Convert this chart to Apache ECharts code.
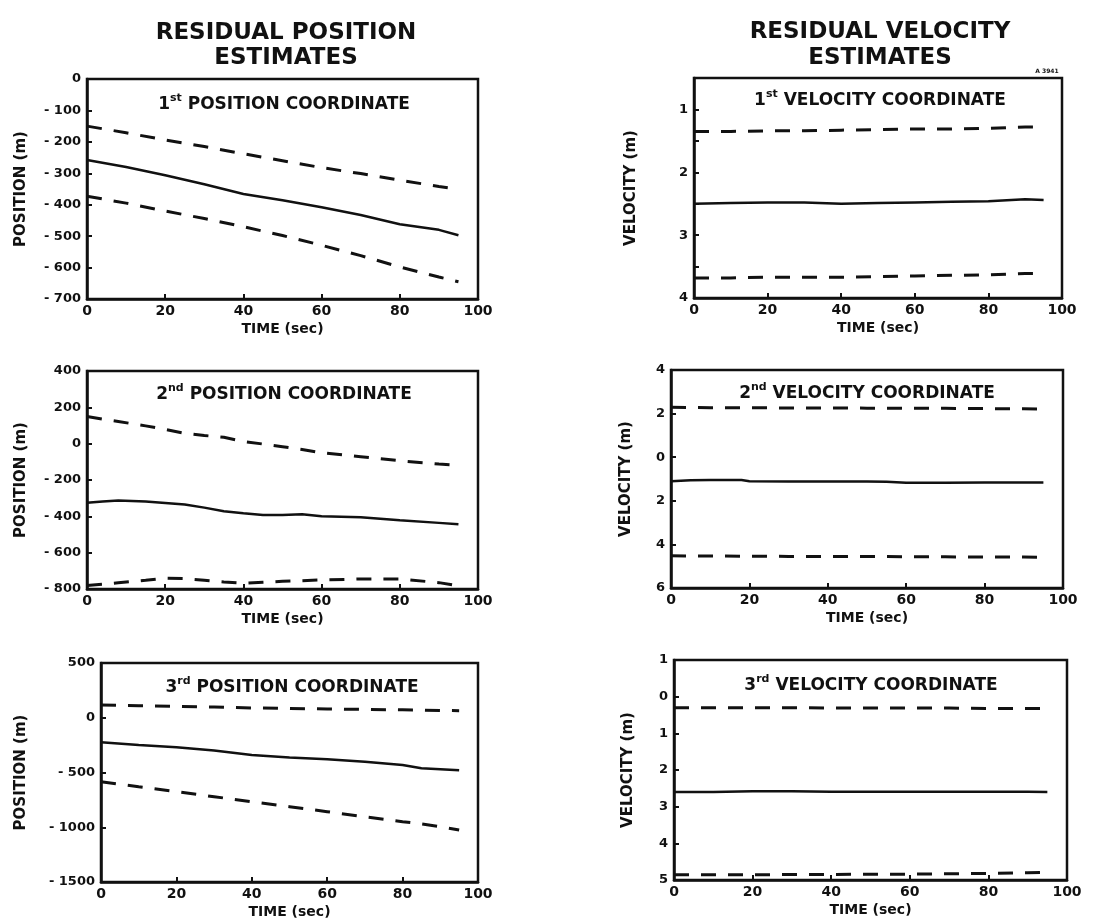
<!DOCTYPE html>
<html>
<head>
<meta charset="utf-8">
<script src="https://cdn.jsdelivr.net/npm/echarts@6/dist/echarts.min.js"></script>
<style>
html,body{margin:0;padding:0;background:#fff;}
#chart{width:1107px;height:921px;}
</style>
</head>
<body>
<div id="chart"></div>
<script>
// ---------- DATA ----------
// Panel 1: 1st position coordinate
var t1 = [0, 10, 20, 30, 40, 50, 60, 70, 80, 90, 95];
var pos1Est   = [-258, -280, -306, -335, -366, -386, -408, -433, -462, -480, -497];
var pos1Upper = [-150, -171, -194, -215, -238, -260, -282, -301, -322, -342, -351];
var pos1Lower = [-373, -395, -420, -444, -470, -498, -529, -562, -598, -630, -645];
var pos1Ticks = ['- 700', '- 600', '- 500', '- 400', '- 300', '- 200', '- 100', '0'];

// Panel 2: 1st velocity coordinate
var t2 = [0, 10, 20, 30, 40, 50, 60, 70, 80, 90, 95];
var vel1Est   = [-2.50, -2.49, -2.48, -2.48, -2.50, -2.49, -2.48, -2.47, -2.46, -2.43, -2.44];
var vel1Upper = [-1.35, -1.35, -1.34, -1.34, -1.33, -1.32, -1.31, -1.31, -1.30, -1.28, -1.28];
var vel1Lower = [-3.68, -3.68, -3.67, -3.67, -3.67, -3.66, -3.65, -3.64, -3.63, -3.61, -3.61];
var vel1Ticks = ['4', '', '3', '', '2', '', '1', ''];

// Panel 3: 2nd position coordinate
var t3 = [0, 4, 8, 15, 20, 25, 30, 35, 40, 45, 50, 55, 60, 70, 80, 90, 95];
var pos2Est   = [-325, -318, -313, -318, -326, -335, -352, -372, -383, -392, -393, -388, -400, -405, -421, -436, -444];
var pos2Upper = [149, 135, 122, 98, 79, 57, 45, 35, 12, -2, -17, -32, -50, -72, -94, -112, -119];
var pos2Lower = [-781, -774, -766, -752, -741, -743, -752, -761, -768, -763, -758, -754, -750, -745, -745, -765, -783];
var pos2Ticks = ['- 800', '- 600', '- 400', '- 200', '0', '200', '400'];

// Panel 4: 2nd velocity coordinate
var t4 = [0, 5, 10, 18, 20, 30, 40, 50, 55, 60, 70, 80, 90, 95];
var vel2Est   = [-1.10, -1.06, -1.05, -1.05, -1.10, -1.11, -1.11, -1.12, -1.13, -1.17, -1.17, -1.16, -1.16, -1.16];
var vel2Upper = [2.29, 2.28, 2.27, 2.27, 2.27, 2.26, 2.26, 2.25, 2.25, 2.24, 2.24, 2.23, 2.22, 2.21];
var vel2Lower = [-4.52, -4.53, -4.53, -4.54, -4.54, -4.55, -4.55, -4.56, -4.56, -4.57, -4.57, -4.58, -4.58, -4.59];
var vel2Ticks = ['6', '4', '2', '0', '2', '4'];

// Panel 5: 3rd position coordinate
var t5 = [0, 10, 20, 30, 40, 50, 60, 70, 80, 85, 90, 95];
var pos3Est   = [-224, -248, -270, -300, -340, -362, -380, -402, -432, -462, -470, -480];
var pos3Upper = [116, 110, 104, 98, 90, 85, 80, 76, 72, 70, 67, 64];
var pos3Lower = [-584, -630, -675, -721, -767, -812, -858, -904, -949, -970, -995, -1025];
var pos3Ticks = ['- 1500', '- 1000', '- 500', '0', '500'];

// Panel 6: 3rd velocity coordinate
var t6 = [0, 10, 20, 30, 40, 50, 60, 70, 80, 90, 95];
var vel3Est   = [-2.60, -2.60, -2.58, -2.58, -2.59, -2.59, -2.59, -2.59, -2.59, -2.59, -2.60];
var vel3Upper = [-0.30, -0.30, -0.30, -0.30, -0.31, -0.31, -0.31, -0.31, -0.32, -0.32, -0.32];
var vel3Lower = [-4.86, -4.86, -4.86, -4.85, -4.85, -4.84, -4.84, -4.83, -4.82, -4.80, -4.79];
var vel3Ticks = ['5', '4', '3', '2', '1', '0', '1'];

var xTicks = ['0', '20', '40', '60', '80', '100'];

// ---------- BUILD ----------
var FONT = 'DejaVu Sans';
var INK = '#111';

function zip(t, v) { return t.map(function (x, i) { return [x, v[i]]; }); }

var panels = [
  { grid: { left: 87,  top: 79,  width: 391, height: 220 }, min: -700,  max: 0,    interval: 100, ticks: pos1Ticks, name: 'POSITION (m)', gap: 58,
    t: t1, est: pos1Est, up: pos1Upper, lo: pos1Lower, sub: ['1', 'st', 'POSITION COORDINATE'], subX: 279, subY: 88 },
  { grid: { left: 694, top: 78,  width: 368, height: 220 }, min: -4,    max: -0.5, interval: 0.5, ticks: vel1Ticks, name: 'VELOCITY (m)', gap: 55,
    t: t2, est: vel1Est, up: vel1Upper, lo: vel1Lower, sub: ['1', 'st', 'VELOCITY COORDINATE'], subX: 875, subY: 84 },
  { grid: { left: 87,  top: 371, width: 391, height: 218 }, min: -800,  max: 400,  interval: 200, ticks: pos2Ticks, name: 'POSITION (m)', gap: 58,
    t: t3, est: pos2Est, up: pos2Upper, lo: pos2Lower, sub: ['2', 'nd', 'POSITION COORDINATE'], subX: 279, subY: 378 },
  { grid: { left: 671, top: 370, width: 392, height: 218 }, min: -6,    max: 4,    interval: 2,   ticks: vel2Ticks, name: 'VELOCITY (m)', gap: 37,
    t: t4, est: vel2Est, up: vel2Upper, lo: vel2Lower, sub: ['2', 'nd', 'VELOCITY COORDINATE'], subX: 862, subY: 377 },
  { grid: { left: 101, top: 663, width: 377, height: 219 }, min: -1500, max: 500,  interval: 500, ticks: pos3Ticks, name: 'POSITION (m)', gap: 72,
    t: t5, est: pos3Est, up: pos3Upper, lo: pos3Lower, sub: ['3', 'rd', 'POSITION COORDINATE'], subX: 287, subY: 671 },
  { grid: { left: 674, top: 660, width: 393, height: 220 }, min: -5,    max: 1,    interval: 1,   ticks: vel3Ticks, name: 'VELOCITY (m)', gap: 38,
    t: t6, est: vel3Est, up: vel3Upper, lo: vel3Lower, sub: ['3', 'rd', 'VELOCITY COORDINATE'], subX: 866, subY: 669 }
];

var grids = [], xAxes = [], yAxes = [], series = [];
var titles = [
  { text: 'RESIDUAL POSITION\nESTIMATES', left: 281, top: 16, textAlign: 'center',
    textStyle: { fontFamily: FONT, fontWeight: 'bold', fontSize: 23, lineHeight: 25, color: INK, align: 'center' } },
  { text: 'RESIDUAL VELOCITY\nESTIMATES', left: 875, top: 14, textAlign: 'center',
    textStyle: { fontFamily: FONT, fontWeight: 'bold', fontSize: 23, lineHeight: 26, color: INK, align: 'center' } },
  { text: 'A 3941', left: 1042, top: 63, textAlign: 'center',
    textStyle: { fontFamily: FONT, fontWeight: 'bold', fontSize: 6, color: INK } }
];

panels.forEach(function (p, i) {
  grids.push(Object.assign({ show: true, borderColor: INK, borderWidth: 2.5, backgroundColor: 'transparent',
    containLabel: false, outerBoundsMode: 'none' }, p.grid));
  xAxes.push({
    type: 'value', gridIndex: i, min: 0, max: 100, interval: 20, position: 'bottom',
    name: 'TIME (sec)', nameLocation: 'middle', nameGap: 23,
    nameTextStyle: { fontFamily: FONT, fontWeight: 'bold', fontSize: 14, color: INK, verticalAlign: 'top' },
    axisLine: { show: true, onZero: false, lineStyle: { color: INK, width: 2.5 } },
    axisTick: { show: true, inside: true, length: 5, lineStyle: { color: INK, width: 2 } },
    splitLine: { show: false },
    axisLabel: { fontFamily: FONT, fontWeight: 'bold', fontSize: 14, color: INK, margin: 5,
      formatter: function (v) { return xTicks[Math.round(v / 20)]; } }
  });
  yAxes.push({
    type: 'value', gridIndex: i, min: p.min, max: p.max, interval: p.interval, position: 'left',
    name: p.name, nameLocation: 'middle', nameGap: p.gap, nameRotate: 90,
    nameTextStyle: { fontFamily: FONT, fontWeight: 'bold', fontSize: 15, color: INK },
    axisLine: { show: true, onZero: false, lineStyle: { color: INK, width: 2.5 } },
    axisTick: { show: true, inside: true, length: 5, lineStyle: { color: INK, width: 2 } },
    splitLine: { show: false },
    axisLabel: { fontFamily: FONT, fontWeight: 'bold', fontSize: 13, color: INK, margin: 6,
      formatter: (function (pp) { return function (v) { return pp.ticks[Math.round((v - pp.min) / pp.interval)]; }; })(p) }
  });
  var common = { type: 'line', xAxisIndex: i, yAxisIndex: i, showSymbol: false, symbol: 'none', animation: false, silent: true };
  series.push(Object.assign({ data: zip(p.t, p.up), lineStyle: { color: INK, width: 3, type: [15, 12] } }, common));
  series.push(Object.assign({ data: zip(p.t, p.est), lineStyle: { color: INK, width: 2.5 } }, common));
  series.push(Object.assign({ data: zip(p.t, p.lo), lineStyle: { color: INK, width: 3, type: [15, 12] } }, common));
  titles.push({
    text: '{n|' + p.sub[0] + '}{s|' + p.sub[1] + '}{t| ' + p.sub[2] + '}',
    left: p.subX, top: p.subY, textAlign: 'center',
    textStyle: {
      rich: {
        n: { fontFamily: FONT, fontWeight: 'bold', fontSize: 17, color: INK, lineHeight: 20, verticalAlign: 'bottom' },
        s: { fontFamily: FONT, fontWeight: 'bold', fontSize: 11, color: INK, lineHeight: 20, verticalAlign: 'top', padding: [0, 0, 8, 0] },
        t: { fontFamily: FONT, fontWeight: 'bold', fontSize: 17, color: INK, lineHeight: 20, verticalAlign: 'bottom' }
      }
    }
  });
});

var chart = echarts.init(document.getElementById('chart'), null, { renderer: 'canvas' });
chart.setOption({
  backgroundColor: '#fff',
  animation: false,
  title: titles,
  grid: grids,
  xAxis: xAxes,
  yAxis: yAxes,
  series: series
});
</script>
</body>
</html>
